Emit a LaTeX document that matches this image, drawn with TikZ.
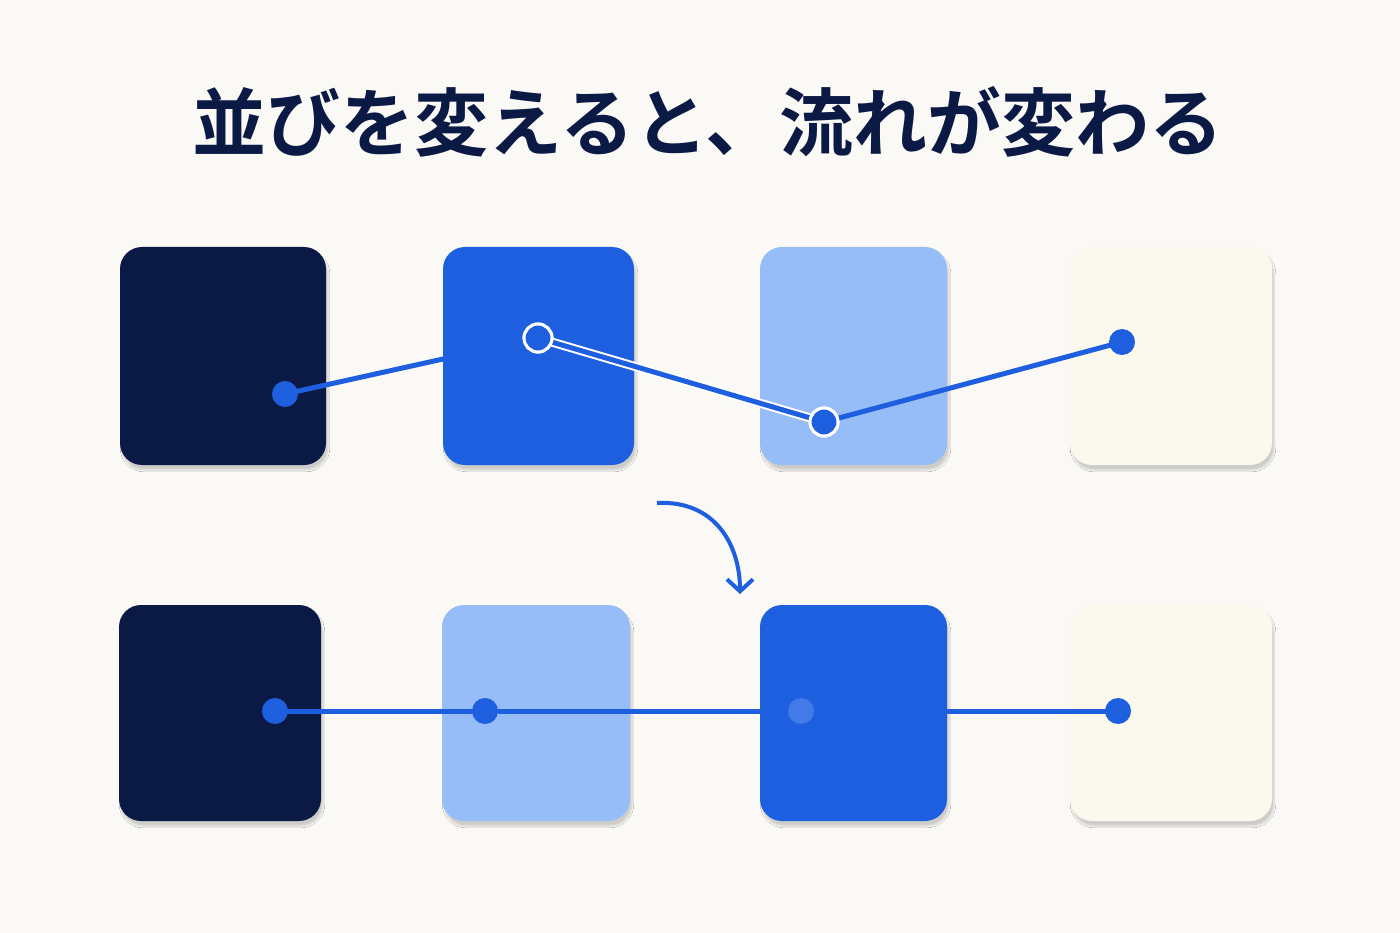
\documentclass[tikz,border=0pt]{standalone}
\usepackage{fontspec}
\newfontfamily\cjk{Noto Sans CJK JP}[BoldFont={* Bold}]
\usetikzlibrary{shadows.blur,arrows.meta}
\definecolor{navy}{HTML}{0B1A45}
\definecolor{blu}{HTML}{1E5FE0}
\definecolor{lblu}{HTML}{96BDF7}
\definecolor{cream}{HTML}{FBF8EE}
\definecolor{bg}{HTML}{FAF9F6}
\begin{document}
\begin{tikzpicture}[x=1pt,y=-1pt,
 box/.style={rounded corners=22pt,blur shadow={shadow blur steps=8,shadow xshift=2pt,shadow yshift=-5pt,shadow opacity=18}},
 dot/.style={circle,fill=blu,inner sep=0pt,minimum size=26pt},
 ring/.style={circle,fill=blu,draw=white,line width=3pt,inner sep=0pt,minimum size=28pt},
 ln/.style={blu,line width=5pt}]
\fill[bg] (0,0) rectangle (1400,933);
\useasboundingbox (0,0) rectangle (1400,933);
\node[font=\cjk\bfseries\fontsize{74}{80}\selectfont,text=navy] (title) at (708,122) {並びを変えると、流れが変わる};
% top row
\fill[box,navy] (120,247) rectangle (326,465);
\fill[box,blu] (443,247) rectangle (634,465);
\fill[box,lblu] (760,247) rectangle (947,465);
\fill[box,cream] (1070,247) rectangle (1272,465);
\node[dot] (a1) at (285,394) {};
\node[ring] (a2) at (538,338) {};
\node[ring] (a3) at (824,422) {};
\node[dot] (a4) at (1122,342) {};
\draw[ln] (a1.center) -- (a2.center);
\draw[white,line width=9pt] (a2.center) -- (a3.center);
\draw[ln] (a2.center) -- (a3.center) -- (a4.center);
\node[ring] at (a2) {};
\node[ring] at (a3) {};
\fill[blu] (a1) circle (12pt) (a4) circle (12pt);
% arrow
\coordinate (c1) at (657,503);
\coordinate (c2) at (740,594);
\draw[blu,line width=4pt,-{Straight Barb[length=12pt,width=26pt]}] (c1) .. controls (715,500) and (740,545) .. (c2);
% bottom row
\fill[box,navy] (119,605) rectangle (321,821);
\fill[box,lblu] (442,605) rectangle (630,821);
\fill[box,blu] (760,605) rectangle (947,821);
\fill[box,cream] (1070,605) rectangle (1272,821);
\node[dot] (b1) at (275,711) {};
\node[dot] (b2) at (485,711) {};
\node[dot,fill=blu!70!lblu] (b3) at (801,711) {};
\node[dot] (b4) at (1118,711) {};
\draw[ln] (b1.center) -- (b2.center);
\draw[ln] (b2) -- (b3);
\draw[ln] (b3) -- (b4.center);
\end{tikzpicture}
\end{document}
